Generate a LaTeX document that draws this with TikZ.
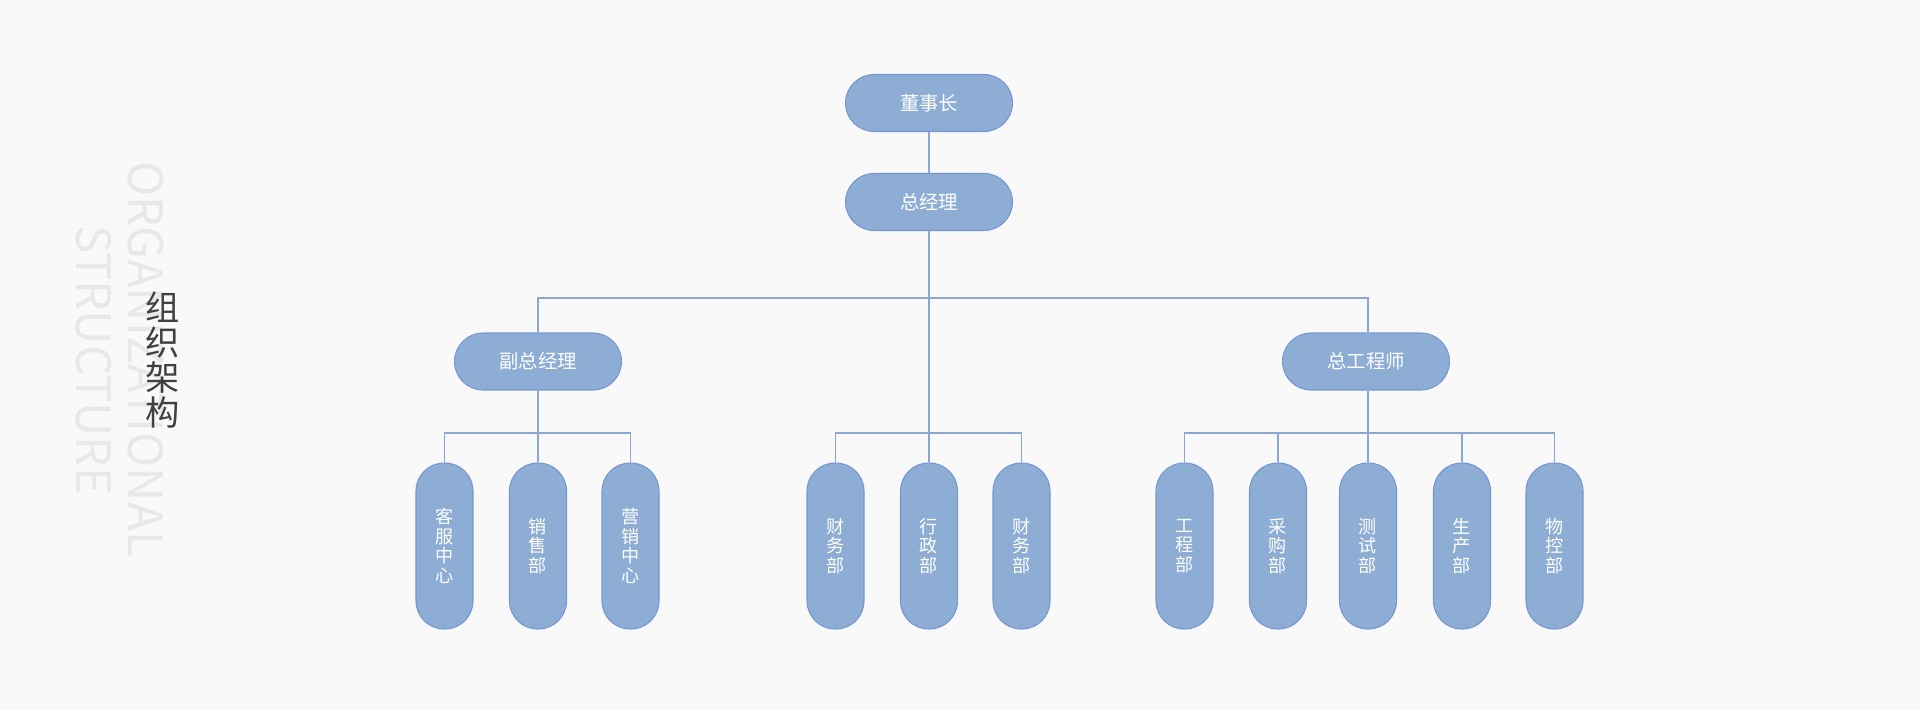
\documentclass[tikz,border=0pt]{standalone}
\usepackage{fontspec}
\setmainfont{Noto Sans CJK SC}
\usetikzlibrary{positioning}
\definecolor{boxfill}{HTML}{8DADD4}
\definecolor{boxline}{HTML}{7596D6}
\definecolor{linkcol}{HTML}{8AA7D6}
\definecolor{bgcol}{HTML}{F9F9F9}
\definecolor{titlecol}{HTML}{404040}
\definecolor{ghostcol}{HTML}{E8E8E8}

\begin{document}
\begin{tikzpicture}[x=0.02cm, y=0.02cm,
    headbox/.style={draw=boxline, fill=boxfill, line width=0.6pt, rounded corners=0.57cm,
        minimum width=3.34cm, minimum height=1.14cm, inner sep=0pt,
        text=white, font=\fontsize{11}{13}\selectfont},
    deptbox/.style={draw=boxline, fill=boxfill, line width=0.6pt, rounded corners=0.56cm,
        minimum width=1.14cm, minimum height=3.32cm, inner sep=0pt, align=center,
        text=white, font=\fontsize{10.3}{11.1}\selectfont},
    link/.style={draw=linkcol, line width=0.6pt}]

    % Hintergrund
    \fill[bgcol] (0,0) rectangle (1920,-710);
    \useasboundingbox (0,0) rectangle (1920,-710);

    % Titel links
    \node[rotate=-90, font=\fontsize{27}{27}\selectfont, text=ghostcol] (ghostA) at (145.5,-359) {ORGANIZATIONAL};
    \node[rotate=-90, font=\fontsize{27}{27}\selectfont, text=ghostcol] (ghostB) at (93.5,-360) {STRUCTURE};
    \node[font=\fontsize{19.5}{20}\selectfont, text=titlecol, align=center] (title) at (163,-360) {组\\织\\架\\构};

    % Leitung
    \node[headbox] (dsz) at (929,-103) {董事长};
    \node[headbox] (zjl) at (929,-202) {总经理};
    \node[headbox] (fzjl) at (538,-361.5) {副总经理};
    \node[headbox] (zgcs) at (1366,-361.5) {总工程师};

    % Abteilungen
    \node[deptbox] (kf) at (444.5,-546) {客\\服\\中\\心};
    \node[deptbox] (xs) at (538,-546) {销\\售\\部};
    \node[deptbox] (yx) at (630.5,-546) {营\\销\\中\\心};
    \node[deptbox] (cwA) at (835.5,-546) {财\\务\\部};
    \node[deptbox] (xz) at (929,-546) {行\\政\\部};
    \node[deptbox] (cwB) at (1021.5,-546) {财\\务\\部};
    \node[deptbox] (gc) at (1184.5,-546) {工\\程\\部};
    \node[deptbox] (cg) at (1278,-546) {采\\购\\部};
    \node[deptbox] (cs) at (1368,-546) {测\\试\\部};
    \node[deptbox] (sc) at (1462,-546) {生\\产\\部};
    \node[deptbox] (wk) at (1554.5,-546) {物\\控\\部};

    % Verbindungen
    \coordinate (busTop) at (929,-298);
    \coordinate (busLow) at (929,-433);
    \draw[link] (dsz) -- (zjl);
    \draw[link] (zjl.south) -- (xz.north);
    \draw[link] (fzjl.north) |- (busTop) -| (cs.north |- zgcs.north);
    \draw[link] (cwA.north) |- (busLow) -| (cwB.north);
    \draw[link] (fzjl.south) -- (xs.north);
    \draw[link] (kf.north) |- (xs.north |- busLow) -| (yx.north);
    \draw[link] (cs.north |- zgcs.south) -- (cs.north);
    \draw[link] (gc.north) |- (cs.north |- busLow) -| (wk.north);
    \draw[link] (cg.north) -- (cg.north |- busLow);
    \draw[link] (sc.north) -- (sc.north |- busLow);
\end{tikzpicture}
\end{document}
